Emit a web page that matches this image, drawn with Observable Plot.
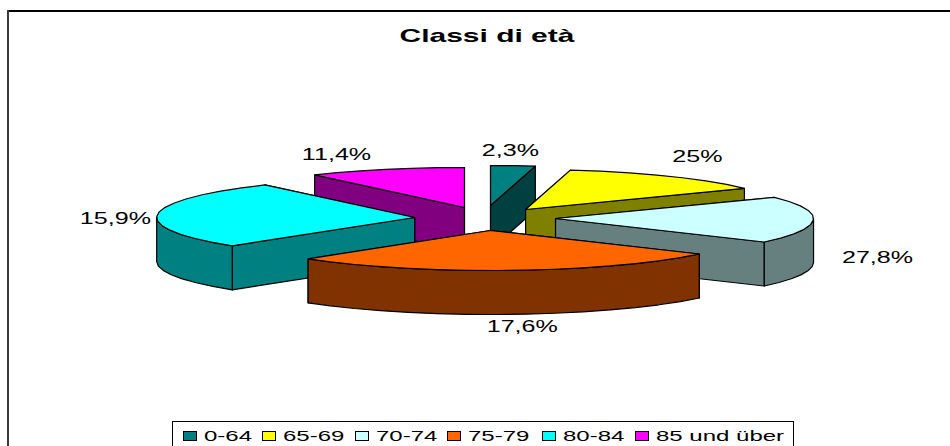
<!DOCTYPE html>
<html>
<head>
<meta charset="utf-8">
<script src="https://cdn.jsdelivr.net/npm/d3@7"></script>
<script src="https://cdn.jsdelivr.net/npm/@observablehq/plot@0.6"></script>
<style>
  html, body { margin: 0; padding: 0; background: #fff; }
  #chart { position: relative; width: 950px; height: 446px; overflow: hidden; font-family: "Liberation Sans", Arial, sans-serif; color: #000; }
  #edgeTop { position: absolute; left: 7px; right: 0; top: 10px; height: 1.5px; background: #000; }
  #edgeLeft { position: absolute; left: 7px; top: 10px; bottom: 0; width: 2px; background: #3a3a3a; }
  #title { width: 973px; height: 55px; line-height: 52px; text-align: center; box-sizing: border-box; padding-top: 10px; }
  #title span { display: inline-block; font-weight: bold; font-size: 18.5px; transform: scaleX(1.62); }
  svg { display: block; }
  #legend { position: absolute; left: 172px; top: 421px; width: 622px; height: 40px; border: 1.5px solid #000; box-sizing: border-box; background: #fff; }
  .item { position: absolute; top: 6px; height: 18px; line-height: 18px; font-size: 15px; white-space: nowrap; }
  .item i { position: absolute; left: 0; top: 3px; width: 12px; height: 8px; border: 1px solid #000; }
  .item b { position: absolute; left: 21px; top: -1px; font-weight: normal; transform: scaleX(1.6); transform-origin: left center; }
</style>
</head>
<body>
<div id="chart">
  <div id="edgeTop"></div><div id="edgeLeft"></div>
  <div id="title"><span>Classi di età</span></div>
  <div id="plot"></div>
  <div id="legend"></div>
</div>
<script>
// --- data ---
const categories = ["0-64", "65-69", "70-74", "75-79", "80-84", "85 und über"];
const valueLabels = ["2,3%", "25%", "27,8%", "17,6%", "15,9%", "11,4%"];
// angular width of each drawn slice, in degrees, clockwise from 12 o'clock
const sliceDegrees = [10, 48, 68, 99, 99.5, 35.5];
const topColors = ["#008080", "#FFFF00", "#CCFFFF", "#FF6600", "#00FFFF", "#FF00FF"];
const sideColors = ["#004040", "#808000", "#668080", "#803300", "#008080", "#800080"];

// --- layout of the exploded pie, in pie radii ---
const explodeX = [0.004, 0.14, 0.256, 0.004, -0.29, -0.097];
const explodeY = [0.325, 0.225, 0, -0.30, 0.025, 0.275];
const depth = 1.1;
const drawOrder = [5, 0, 1, 2, 4, 3];
const labelX = [0.081, 0.806, 1.504, 0.127, -1.45, -0.593];
const labelY = [1.7, 1.55, -0.98, -2.72, 0, 1.6];
const legendLeft = [10, 89, 182, 274, 369, 462];

const rad = d => d * Math.PI / 180;
const starts = d3.cumsum([0, ...sliceDegrees]);

const rows = [];
function poly(id, color, pts) { pts.forEach(p => rows.push({id, color, x: p[0], y: p[1]})); }

drawOrder.forEach(i => {
  const a0 = starts[i], a1 = starts[i + 1];
  const ax = explodeX[i], ay = explodeY[i];
  const rim = a => [ax + Math.sin(rad(a)), ay + Math.cos(rad(a))];
  const low = p => [p[0], p[1] - depth];
  const apex = [ax, ay];
  const arc = (s, e) => {
    const n = Math.max(1, Math.ceil((e - s) / 7));
    return d3.range(n + 1).map(k => rim(s + (e - s) * k / n));
  };
  // radial walls, the one further back first
  const walls = [a0, a1].sort((p, q) => Math.cos(rad(q)) - Math.cos(rad(p)));
  walls.forEach((a, k) => {
    const r = rim(a);
    poly(`w${i}-${k}`, sideColors[i], [apex, r, low(r), low(apex)]);
  });
  // visible rim wall (front half only)
  const fs = Math.max(a0, 90), fe = Math.min(a1, 270);
  if (fe > fs) {
    const pts = arc(fs, fe);
    poly(`r${i}`, sideColors[i], [...pts, ...pts.slice().reverse().map(low)]);
  }
  // top face
  poly(`t${i}`, topColors[i], [apex, ...arc(a0, a1)]);
});

const labels = valueLabels.map((text, i) => ({text, x: labelX[i], y: labelY[i]}));

const chart = Plot.plot({
  width: 950,
  height: 360,
  margin: 0,
  x: {type: "linear", domain: [-489 / 258, 461 / 258], range: [0, 950], axis: null},
  y: {type: "linear", domain: [163 / 40, -197 / 40], range: [0, 360], axis: null},
  color: {type: "identity"},
  marks: [
    Plot.line(rows, {x: "x", y: "y", z: "id", fill: "color", stroke: "#000", strokeWidth: 1.2, strokeLinejoin: "round", curve: "linear-closed"}),
    Plot.text(labels, {x: "x", y: "y", text: "text", fontSize: 16, fill: "#000", fontFamily: "Liberation Sans, Arial, sans-serif"})
  ]
});
chart.querySelectorAll("text").forEach(t => {
  t.setAttribute("transform", (t.getAttribute("transform") || "") + " scale(1.57,1)");
});
document.getElementById("plot").appendChild(chart);

const legend = document.getElementById("legend");
categories.forEach((c, i) => {
  const item = document.createElement("div");
  item.className = "item";
  item.style.left = legendLeft[i] + "px";
  const sw = document.createElement("i");
  sw.style.background = topColors[i];
  const tx = document.createElement("b");
  tx.textContent = c;
  item.append(sw, tx);
  legend.appendChild(item);
});
</script>
</body>
</html>
